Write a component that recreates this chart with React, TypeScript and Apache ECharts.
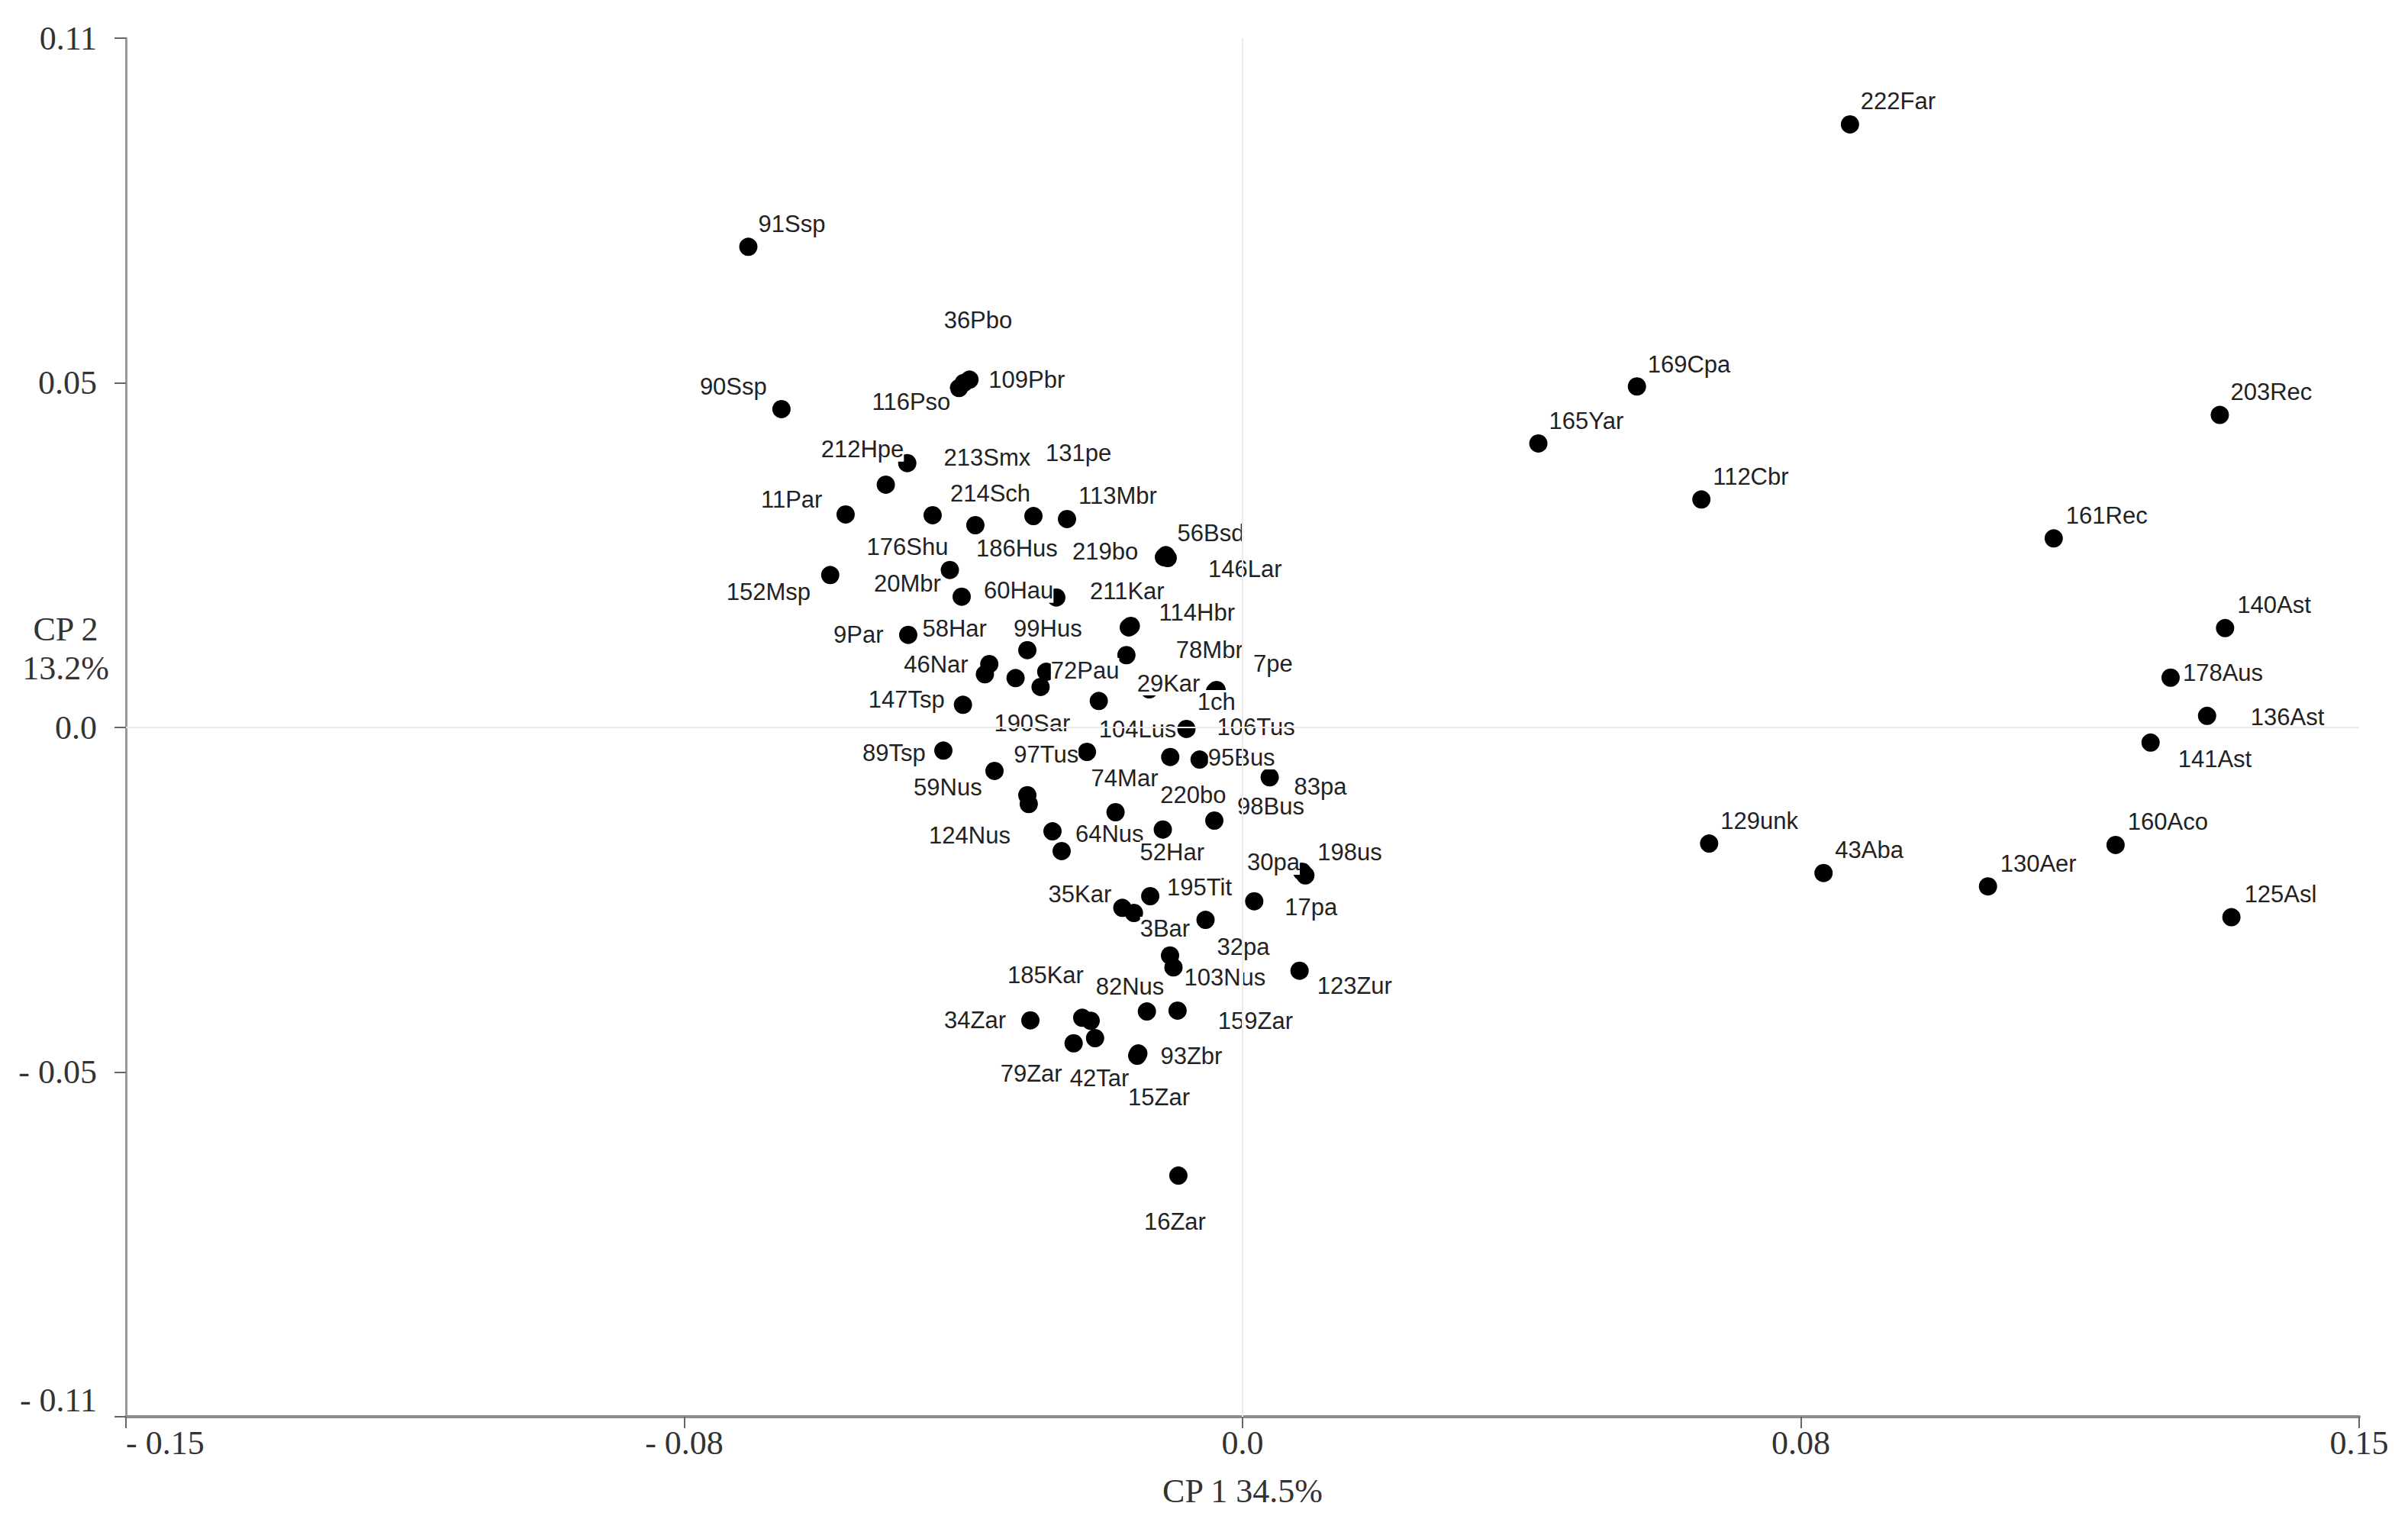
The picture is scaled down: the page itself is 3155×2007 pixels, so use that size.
import React, { useEffect, useRef } from 'react';
import * as echarts from 'echarts';

// ---- data ----
const pointNames = [
  '91Ssp', '90Ssp', '36Pbo', '116Pso', '109Pbr', '212Hpe', '213Smx', '11Par', '214Sch', '186Hus',
  '131pe', '113Mbr', '219bo', '146Lar', '56Bsd', '176Shu', '20Mbr', '60Hau', '152Msp', '211Kar',
  '114Hbr', '78Mbr', '9Par', '46Nar', '58Har', '', '72Pau', '190Sar', '99Hus', '147Tsp',
  '104Lus', '29Kar', '106Tus', '7pe', '1ch', '89Tsp', '97Tus', '220bo', '95Bus', '59Nus',
  '83pa', '124Nus', '', '74Mar', '98Bus', '64Nus', '52Har', '', '30pa', '198us',
  '195Tit', '17pa', '35Kar', '3Bar', '32pa', '', '103Nus', '123Zur', '82Nus', '159Zar',
  '34Zar', '185Kar', '', '42Tar', '79Zar', '15Zar', '93Zbr', '16Zar', '222Far', '169Cpa',
  '165Yar', '112Cbr', '203Rec', '161Rec', '140Ast', '178Aus', '136Ast', '141Ast', '129unk', '43Aba',
  '130Aer', '160Aco', '125Asl',
];

const cp1 = [
  -0.06639, -0.06194, -0.03746, -0.03809, -0.03668, -0.04504, -0.04792, -0.05332, -0.04163, -0.03589,
  -0.02809, -0.02358, -0.01056, -0.01005, -0.0103, -0.03932, -0.03773, -0.02502, -0.05539, -0.01528,
  -0.01501, -0.0156, -0.04491, -0.03402, -0.03461, -0.03049, -0.02637, -0.02713, -0.02891, -0.03756,
  -0.01931, -0.01254, -0.00754, -0.00349, -0.00371, -0.04019, -0.0209, -0.00971, -0.00577, -0.03332,
  0.00365, -0.02891, -0.02872, -0.01706, -0.00379, -0.02553, -0.01071, -0.0243, 0.008, 0.00844,
  -0.0124, 0.00157, -0.01615, -0.01459, -0.00497, -0.00974, -0.00928, 0.00766, -0.01285, -0.00873,
  -0.0285, -0.02154, -0.0204, -0.01981, -0.02269, -0.01415, -0.014, -0.00862, 0.0816, 0.05298,
  0.03974, 0.06164, 0.13128, 0.10897, 0.13199, 0.12467, 0.12957, 0.12198, 0.06268, 0.07805,
  0.10014, 0.11728, 0.13284,
];

const cp2 = [
  0.07671, 0.0508, 0.05498, 0.05417, 0.05551, 0.04219, 0.03874, 0.03399, 0.03387, 0.03228,
  0.03374, 0.03326, 0.02717, 0.02704, 0.02749, 0.02513, 0.02087, 0.02075, 0.02433, 0.01596,
  0.0162, 0.01154, 0.01478, 0.01011, 0.00849, 0.00788, 0.00889, 0.00646, 0.01234, 0.00362,
  0.00423, 0.00609, -0.00024, 0.00597, 0.00573, -0.00369, -0.0039, -0.00471, -0.00512, -0.00694,
  -0.00795, -0.01081, -0.01222, -0.01352, -0.01486, -0.01657, -0.01629, -0.01973, -0.02302, -0.0236,
  -0.02692, -0.02774, -0.02879, -0.0296, -0.0307, -0.03639, -0.03829, -0.03882, -0.04532, -0.04519,
  -0.04674, -0.04633, -0.04681, -0.04958, -0.0504, -0.05238, -0.05202, -0.07151, 0.09624, 0.05442,
  0.04532, 0.03639, 0.04987, 0.03017, 0.01586, 0.00795, 0.00185, -0.00242, -0.01853, -0.02323,
  -0.02536, -0.01875, -0.03028,
];

const xTicks = [-0.15, -0.075, 0, 0.075, 0.15];
const xTickLabels = ['- 0.15', '- 0.08', '0.0', '0.08', '0.15'];
const yTicks = [-0.11, -0.055, 0, 0.055, 0.11];
const yTickLabels = ['- 0.11', '- 0.05', '0.0', '0.05', '0.11'];
const xAxisTitle = 'CP 1 34.5%';
const yAxisTitle = ['CP 2', '13.2%'];

// ---- layout only: label offsets (px) from each dot centre to its label's left/middle ----
const labelOffsets: [number, number][] = [
  [13, -30], [-107, -29], [-26, -82], [-114, 18], [25, 0], [-113, -18], [76, -35], [-111, -19], [23, -28], [1, 30],
  [16, -83], [15, -30], [-120, -7], [53, 14], [15, -29], [-109, -30], [-115, -17], [-95, -9], [-136, 22], [-51, -47],
  [37, -18], [65, -7], [-98, 0], [-112, 0], [-82, -60], [0, 0], [6, -2], [-61, 48], [-18, -28], [-124, -7],
  [0, 37], [-16, -8], [40, -2], [48, -34], [-23, 14], [-106, 3], [-96, 3], [-13, 50], [11, -3], [-106, 22],
  [32, 12], [-129, 53], [0, 0], [-32, -44], [30, -18], [30, 3], [-30, 30], [0, 0], [-72, -12], [16, -30],
  [22, -11], [40, 8], [-97, -18], [8, 21], [15, 35], [0, 0], [14, 13], [23, 20], [-67, -33], [53, 14],
  [-113, 0], [-98, -56], [0, 0], [-33, 52], [-96, 40], [-12, 55], [29, 3], [-45, 60], [14, -30], [14, -29],
  [14, -29], [15, -30], [14, -30], [16, -30], [16, -30], [16, -6], [57, 2], [36, 22], [15, -30], [15, -30],
  [16, -30], [16, -30], [17, -30],
];

const tickLabel = (ticks: number[], labels: string[]) => (v: number) => {
  const i = ticks.findIndex((t) => Math.abs(t - v) < 1e-6);
  return i >= 0 ? labels[i] : '';
};

const SERIF = 'Liberation Serif';
const SANS = 'Liberation Sans';

export default function App() {
  const ref = useRef<HTMLDivElement>(null);

  useEffect(() => {
    if (!ref.current) return;
    const chart = echarts.init(ref.current, undefined, { renderer: 'svg' });

    const data = pointNames.map((n, i) => ({
      name: n,
      value: [cp1[i], cp2[i]],
      label: { show: n !== '', offset: labelOffsets[i] },
    }));

    chart.setOption({
      animation: false,
      backgroundColor: '#ffffff',
      grid: { left: 165, right: 64, top: 50, bottom: 151, containLabel: false, outerBoundsMode: 'none' },
      xAxis: {
        type: 'value',
        min: -0.15,
        max: 0.15,
        interval: 0.075,
        name: xAxisTitle,
        nameLocation: 'middle',
        nameGap: 75,
        nameTextStyle: { fontFamily: SERIF, fontSize: 44, color: '#333' },
        axisLine: { show: true, onZero: false, lineStyle: { color: '#8c8c8c', width: 4 } },
        axisTick: { show: true, length: 15, lineStyle: { color: '#666', width: 2 } },
        axisLabel: {
          fontFamily: SERIF,
          fontSize: 44,
          color: '#333',
          margin: 12,
          showMinLabel: true,
          showMaxLabel: true,
          alignMinLabel: 'left',
          formatter: tickLabel(xTicks, xTickLabels),
        },
        splitLine: { show: false },
      },
      yAxis: {
        type: 'value',
        min: -0.11,
        max: 0.11,
        interval: 0.055,
        axisLine: { show: true, onZero: false, lineStyle: { color: '#999', width: 3 } },
        axisTick: { show: true, length: 15, lineStyle: { color: '#666', width: 2 } },
        axisLabel: {
          fontFamily: SERIF,
          fontSize: 44,
          color: '#333',
          margin: 38,
          showMinLabel: true,
          showMaxLabel: true,
          verticalAlignMinLabel: 'bottom',
          formatter: tickLabel(yTicks, yTickLabels),
        },
        splitLine: { show: false },
      },
      graphic: [
        {
          type: 'text',
          x: 86,
          y: 850,
          style: {
            text: yAxisTitle.join('\n'),
            font: `44px "${SERIF}"`,
            fill: '#333',
            align: 'center',
            verticalAlign: 'middle',
            lineHeight: 51,
          },
        },
      ],
      series: [
        {
          type: 'scatter',
          z: 1,
          data: [],
          silent: true,
          markLine: {
            silent: true,
            symbol: 'none',
            animation: false,
            label: { show: false },
            lineStyle: { color: '#ebebeb', width: 2, type: 'solid' },
            data: [{ xAxis: 0 }, { yAxis: 0 }],
          },
        },
        {
          type: 'scatter',
          z: 3,
          symbol: 'circle',
          symbolSize: 24,
          itemStyle: { color: '#000', opacity: 1 },
          label: {
            show: true,
            position: 'inside',
            align: 'left',
            verticalAlign: 'middle',
            formatter: '{b}',
            fontFamily: SANS,
            fontSize: 31,
            lineHeight: 32,
            color: '#222',
            backgroundColor: '#ffffff',
            textBorderWidth: 0,
          },
          emphasis: { disabled: true },
          data,
        },
      ],
    });

    return () => chart.dispose();
  }, []);

  return (
    <div
      ref={ref}
      style={{ position: 'fixed', left: 0, top: 0, width: 3155, height: 2007, background: '#fff' }}
    />
  );
}
